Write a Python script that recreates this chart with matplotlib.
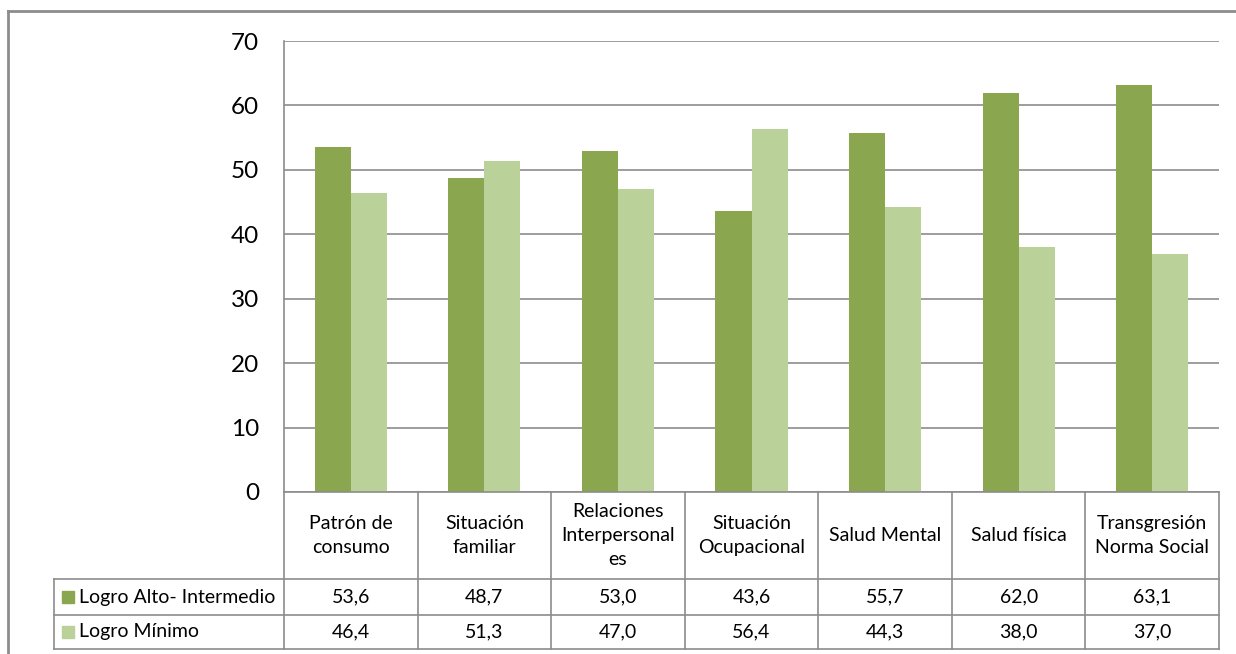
import numpy as np
import matplotlib
matplotlib.use("Agg")
import matplotlib.pyplot as plt
from matplotlib.lines import Line2D
from matplotlib.patches import Rectangle
import matplotlib.transforms as mtrans

categorias = ["Patrón de\nconsumo", "Situación\nfamiliar", "Relaciones\nInterpersonal\nes",
              "Situación\nOcupacional", "Salud Mental", "Salud física",
              "Transgresión\nNorma Social"]
alto_intermedio = [53.6, 48.7, 53.0, 43.6, 55.7, 62.0, 63.1]
minimo = [46.4, 51.3, 47.0, 56.4, 44.3, 38.0, 37.0]
series = ["Logro Alto- Intermedio", "Logro Mínimo"]
colores = ["#8AA64F", "#BBD19A"]

plt.rcParams['font.family'] = ['Lato', 'DejaVu Sans']
W, H = 1236, 654
fig = plt.figure(figsize=(W / 100, H / 100), dpi=100)

def fy(py):
    return 1 - py / H

def fx(px):
    return px / W

gris = "#8C8C8C"
ax = fig.add_axes([fx(284), fy(492), fx(1219) - fx(284), fy(41) - fy(492)])
x = np.arange(len(categorias))
w = 0.27
ax.bar(x - w / 2, alto_intermedio, w, color=colores[0], zorder=3)
ax.bar(x + w / 2, minimo, w, color=colores[1], zorder=3)
ax.set_xlim(-0.5, len(categorias) - 0.5)
ax.set_ylim(0, 70)
ax.set_yticks(range(0, 71, 10))
ax.tick_params(axis='y', length=0, labelsize=17.5, pad=18)
ax.set_xticks([])
ax.grid(axis='y', color=gris, lw=1.2, zorder=0)
for s in ["top", "right", "bottom"]:
    ax.spines[s].set_visible(False)
ax.spines["left"].set_color(gris)
ax.spines["left"].set_linewidth(1.2)

# tabla de datos bajo el gráfico
tr = mtrans.blended_transform_factory(ax.transData, fig.transFigure)
y_top, y_r1, y_r2, y_bot = fy(492), fy(579), fy(615), fy(649)
x0 = -0.5
x_leg = ax.transData.inverted().transform((54, 0))[0]
x_end = len(categorias) - 0.5

def linea(xs, ys):
    fig.add_artist(Line2D(xs, ys, transform=tr, color=gris, lw=1.2))

linea([x0, x_end], [y_top, y_top])
for yy in (y_r1, y_r2, y_bot):
    linea([x_leg, x_end], [yy, yy])
linea([x_leg, x_leg], [y_r1, y_bot])
for i in range(len(categorias) + 1):
    linea([x0 + i, x0 + i], [y_top, y_bot])

fs = 14
for i, c in enumerate(categorias):
    fig.text(i, (y_top + y_r1) / 2, c, transform=tr, ha='center', va='center',
             fontsize=fs, linespacing=1.5)
    fig.text(i, (y_r1 + y_r2) / 2, f"{alto_intermedio[i]:.1f}".replace('.', ','),
             transform=tr, ha='center', va='center', fontsize=fs)
    fig.text(i, (y_r2 + y_bot) / 2, f"{minimo[i]:.1f}".replace('.', ','),
             transform=tr, ha='center', va='center', fontsize=fs)

for k, (nombre, col) in enumerate(zip(series, colores)):
    yc = [(y_r1 + y_r2) / 2, (y_r2 + y_bot) / 2][k]
    fig.add_artist(Rectangle((fx(62), yc - 5.5 / H), 12 / W, 12 / H,
                             transform=fig.transFigure, color=col))
    fig.text(fx(79), yc, nombre, ha='left', va='center', fontsize=fs)

# marco exterior
fig.add_artist(Line2D([fx(8), fx(8)], [0, fy(11)], color="#8C8C8C", lw=2))
fig.add_artist(Line2D([fx(8), 1], [fy(11), fy(11)], color="#8C8C8C", lw=2))

fig.savefig("out.png", dpi=100)
